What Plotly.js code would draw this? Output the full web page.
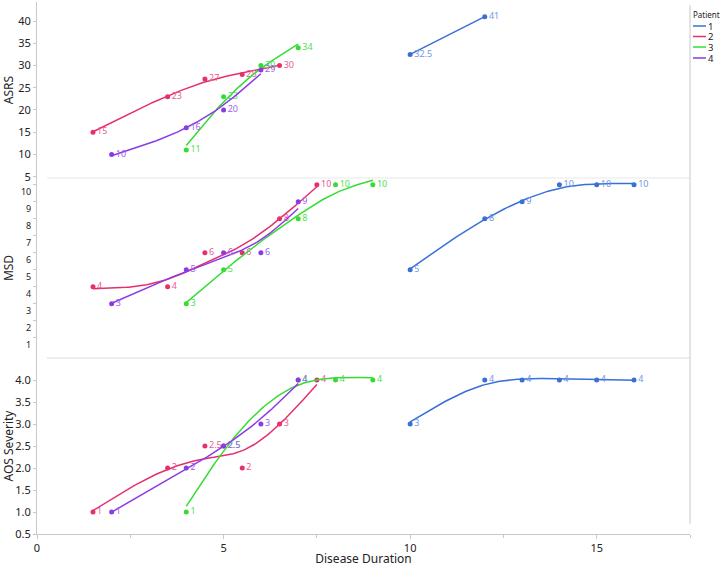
<!DOCTYPE html>
<html>
<head>
<meta charset="utf-8">
<script src="https://cdn.plot.ly/plotly-3.0.1.min.js"></script>
<style>
  html, body { margin: 0; padding: 0; background: #fff; }
  #chart { width: 721px; height: 567px; }
</style>
</head>
<body>
<div id="chart"></div>
<script>
// values
var patients = ['1', '2', '3', '4'];

var p1Dur = [10, 12, 13, 14, 15, 16];
var p1Asrs = [32.5, 41, null, null, null, null];
var p1Msd = [5, 8, 9, 10, 10, 10];
var p1Aos = [3, 4, 4, 4, 4, 4];

var p2Dur = [1.5, 3.5, 4.5, 5.5, 6.5, 7.5];
var p2Asrs = [15, 23, 27, 28, 30, null];
var p2Msd = [4, 4, 6, 6, 8, 10];
var p2Aos = [1, 2, 2.5, 2, 3, 4];

var p3Dur = [4, 5, 6, 7, 8, 9];
var p3Asrs = [11, 23, 30, 34, null, null];
var p3Msd = [3, 5, null, 8, 10, 10];
var p3Aos = [1, 2.5, null, 4, 4, 4];

var p4Dur = [2, 4, 5, 6, 7];
var p4Asrs = [10, 16, 20, 29, null];
var p4Msd = [3, 5, 6, 6, 9];
var p4Aos = [1, 2, 2.5, 3, 4];

var asrsTicks = [5, 10, 15, 20, 25, 30, 35, 40];
var msdTicks = [1, 2, 3, 4, 5, 6, 7, 8, 9, 10];
var aosTicks = [0.5, 1, 1.5, 2, 2.5, 3, 3.5, 4];

var lineColors = ['#3b6fd8', '#e5306c', '#36dc36', '#8a3be4'];
var textColors = ['#6f97e6', '#ec5a9c', '#4fe04f', '#9d61ee'];

var series = [
  { dur: p1Dur, vals: [p1Asrs, p1Msd, p1Aos] },
  { dur: p2Dur, vals: [p2Asrs, p2Msd, p2Aos] },
  { dur: p3Dur, vals: [p3Asrs, p3Msd, p3Aos] },
  { dur: p4Dur, vals: [p4Asrs, p4Msd, p4Aos] }
];
var yaxes = ['y', 'y2', 'y3'];
var lambda = 0.35;

function solve(A, b) {
  var n = b.length;
  for (var i = 0; i < n; i++) {
    var p = i;
    for (var j = i + 1; j < n; j++) if (Math.abs(A[j][i]) > Math.abs(A[p][i])) p = j;
    var tmp = A[i]; A[i] = A[p]; A[p] = tmp;
    var tb = b[i]; b[i] = b[p]; b[p] = tb;
    for (var j2 = i + 1; j2 < n; j2++) {
      var f = A[j2][i] / A[i][i];
      for (var c = i; c < n; c++) A[j2][c] -= f * A[i][c];
      b[j2] -= f * b[i];
    }
  }
  var x = new Array(n).fill(0);
  for (var k = n - 1; k >= 0; k--) {
    var s = b[k];
    for (var c2 = k + 1; c2 < n; c2++) s -= A[k][c2] * x[c2];
    x[k] = s / A[k][k];
  }
  return x;
}

// cubic smoothing spline (Reinsch), the smoother line through each series
function smoother(xs, ys, lam) {
  var n = xs.length;
  var h = [];
  for (var i = 0; i < n - 1; i++) h.push(xs[i + 1] - xs[i]);
  var g = ys.slice(), gam = new Array(n).fill(0);
  if (n > 2) {
    var m = n - 2;
    var Q = [];
    for (var r = 0; r < n; r++) Q.push(new Array(m).fill(0));
    var R = [];
    for (var r2 = 0; r2 < m; r2++) R.push(new Array(m).fill(0));
    for (var j = 1; j <= m; j++) {
      Q[j - 1][j - 1] = 1 / h[j - 1];
      Q[j][j - 1] = -1 / h[j - 1] - 1 / h[j];
      Q[j + 1][j - 1] = 1 / h[j];
      R[j - 1][j - 1] = (h[j - 1] + h[j]) / 3;
      if (j < m) { R[j - 1][j] = h[j] / 6; R[j][j - 1] = h[j] / 6; }
    }
    var M = [], rhs = [];
    for (var a = 0; a < m; a++) {
      M.push([]);
      for (var b = 0; b < m; b++) {
        var s = R[a][b];
        for (var k = 0; k < n; k++) s += lam * Q[k][a] * Q[k][b];
        M[a].push(s);
      }
      var t = 0;
      for (var k2 = 0; k2 < n; k2++) t += Q[k2][a] * ys[k2];
      rhs.push(t);
    }
    var gi = solve(M, rhs);
    for (var k3 = 0; k3 < n; k3++) {
      var q = 0;
      for (var a2 = 0; a2 < m; a2++) q += Q[k3][a2] * gi[a2];
      g[k3] = ys[k3] - lam * q;
    }
    for (var a3 = 0; a3 < m; a3++) gam[a3 + 1] = gi[a3];
  }
  return function (x) {
    var i = 0;
    while (i < n - 2 && x > xs[i + 1]) i++;
    var hi = h[i], dl = x - xs[i], dr = xs[i + 1] - x;
    return (dl * g[i + 1] + dr * g[i]) / hi -
      dl * dr / 6 * ((1 + dl / hi) * gam[i + 1] + (1 + dr / hi) * gam[i]);
  };
}

var data = [];
series.forEach(function (s, pi) {
  s.vals.forEach(function (vals, mi) {
    var xs = [], ys = [];
    for (var i = 0; i < s.dur.length; i++) {
      if (vals[i] !== null) { xs.push(s.dur[i]); ys.push(vals[i]); }
    }
    var fit = smoother(xs, ys, lambda);
    var cx = [], cy = [];
    var x0 = xs[0], x1 = xs[xs.length - 1];
    for (var k = 0; k <= 100; k++) {
      var x = x0 + (x1 - x0) * k / 100;
      cx.push(x); cy.push(fit(x));
    }
    data.push({
      x: cx, y: cy, yaxis: yaxes[mi], type: 'scatter', mode: 'lines',
      line: { color: lineColors[pi], width: 1.5 },
      hoverinfo: 'skip', showlegend: false
    });
    data.push({
      x: xs, y: ys, yaxis: yaxes[mi], type: 'scatter', mode: 'markers+text',
      marker: { color: lineColors[pi], size: 5 },
      text: ys.map(String), textposition: 'middle right',
      textfont: { color: textColors[pi], size: 9 },
      cliponaxis: false, showlegend: false
    });
  });
});

var fam = 'Noto Sans, sans-serif';
var tickFont = { family: fam, size: 11, color: '#222' };
var axisGray = '#c8c8c8';
function yax(domain, range, vals, title, font, fmt, shift) {
  return {
    domain: domain, range: range, tickmode: 'array', tickvals: vals,
    ticktext: vals.map(function (v) { return fmt ? v.toFixed(1) : String(v); }),
    title: { text: title, font: { size: 12, color: '#222' }, standoff: 6 },
    tickfont: font, ticklabelshift: shift || 0,
    showgrid: false, zeroline: false, showline: true, linecolor: axisGray,
    ticks: 'outside', ticklen: 3, tickcolor: axisGray, anchor: 'x', automargin: false
  };
}

var shapes = [
  { type: 'line', xref: 'paper', yref: 'paper', x0: 0.0153, x1: 1, y0: 0.6692, y1: 0.6692, line: { color: '#e8e8e8', width: 1 } },
  { type: 'line', xref: 'paper', yref: 'paper', x0: 0.0153, x1: 1, y0: 0.3308, y1: 0.3308, line: { color: '#dcdcdc', width: 1 } },
  { type: 'line', xref: 'paper', yref: 'paper', x0: 1, x1: 1, y0: 0.019, y1: 0.994, line: { color: axisGray, width: 1 } }
];
// legend drawn beside the plot: line samples and patient labels
var annotations = [
  { xref: 'paper', yref: 'paper', x: 1.003, y: (534 - 14) / 532, xanchor: 'left', yanchor: 'middle',
    text: 'Patient', showarrow: false, borderpad: 0, font: { family: fam, size: 8, color: '#222' } }
];
var legendRows = [26, 36.5, 47, 58];
patients.forEach(function (p, i) {
  var yy = (534 - legendRows[i]) / 532;
  shapes.push({ type: 'line', xref: 'paper', yref: 'paper', x0: 1.0046, x1: 1.0245, y0: yy, y1: yy,
    line: { color: lineColors[i], width: 1.5 } });
  annotations.push({ xref: 'paper', yref: 'paper', x: 1.0255, y: yy, xanchor: 'left', yanchor: 'middle',
    text: p, showarrow: false, borderpad: 0, font: { family: fam, size: 9.5, color: '#222' } });
});

var layout = {
  width: 721, height: 567,
  margin: { l: 37, r: 31, t: 2, b: 33 },
  paper_bgcolor: '#fff', plot_bgcolor: '#fff',
  font: { family: fam, color: '#222' },
  showlegend: false,
  xaxis: {
    range: [0, 17.5], dtick: 5, tick0: 0, anchor: 'y3',
    title: { text: 'Disease Duration', font: { size: 12, color: '#222' }, standoff: 4 },
    tickfont: tickFont, showgrid: false, zeroline: false, showline: true, linecolor: axisGray,
    ticks: 'outside', ticklen: 4, tickcolor: axisGray,
    minor: { dtick: 2.5, ticks: 'outside', ticklen: 3, tickcolor: axisGray },
    automargin: false
  },
  yaxis: yax([0.6692, 1], [4.7, 44.3], asrsTicks, 'ASRS', tickFont),
  yaxis2: yax([0.3308, 0.6692], [-0.2, 10.4], msdTicks, 'MSD', { family: fam, size: 9, color: '#222' }, false, 7),
  yaxis3: yax([0, 0.3308], [0.5, 4.5], aosTicks, 'AOS Severity', tickFont, true),
  shapes: shapes,
  annotations: annotations
};

Plotly.newPlot('chart', data, layout, { displayModeBar: false, staticPlot: true });
</script>
</body>
</html>
